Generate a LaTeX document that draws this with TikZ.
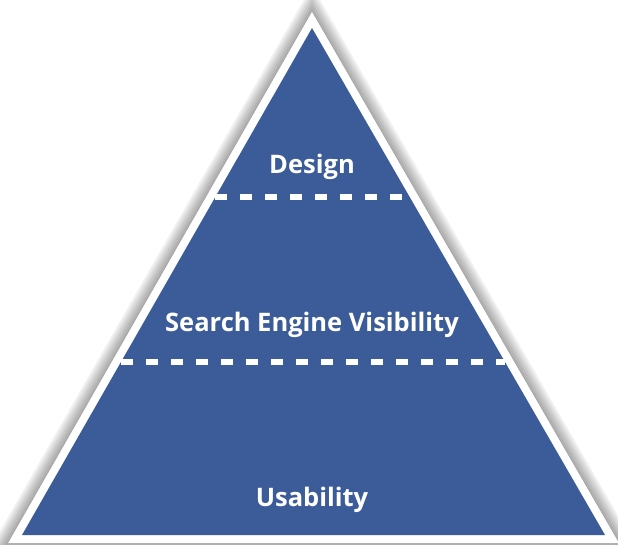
\documentclass[tikz,border=0pt]{standalone}
\usepackage{fontspec}
\setmainfont{Open Sans}
\usetikzlibrary{calc}
\definecolor{pyramidblue}{RGB}{60,92,153}

\begin{document}
\begin{tikzpicture}[x=1pt,y=-1pt]
		% Styles for the labels and the dashed level lines
		\tikzset{
			level label/.style={text=white, font=\fontsize{25.5}{30}\selectfont\bfseries},
			level line/.style={white, line width=6pt, dash pattern=on 12pt off 13pt}
		}
		\useasboundingbox (0,0) rectangle (618,545);
		
		% corners of the blue pyramid
		\coordinate (apex) at (312,28);
		\coordinate (left) at (22,535);
		\coordinate (right) at (605,535);
		
		% soft shadow round the pyramid
		\foreach \w in {18,22,...,42} {
			\draw[black, opacity=0.06, line width=\w pt, line join=miter, shift={(-4,2)}]
				(apex) -- (left) -- (right) -- cycle;
		}
		
		% white border and blue body
		\draw[white, line width=16pt, line join=miter] (apex) -- (left) -- (right) -- cycle;
		\fill[pyramidblue] (apex) -- (left) -- (right) -- cycle;
		
		% dashed lines between the levels
		\draw[level line] ($(apex)!0.333!(left)$) -- ($(apex)!0.333!(right)$);
		\draw[level line] ($(apex)!0.659!(left)$) -- ($(apex)!0.659!(right)$);
		
		% labels
		\node[level label] (design) at (312,167) {Design};
		\node[level label] (search) at (312,325) {Search Engine Visibility};
		\node[level label] (usability) at (312,500) {Usability};
	\end{tikzpicture}
\end{document}
